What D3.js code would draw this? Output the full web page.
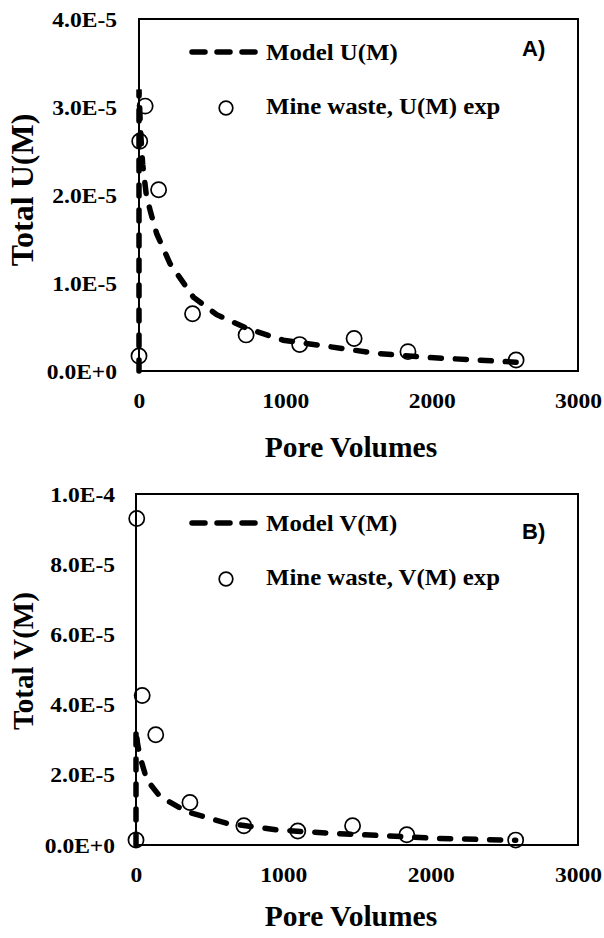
<!DOCTYPE html>
<html>
<head>
<meta charset="utf-8">
<script src="https://cdn.jsdelivr.net/npm/d3@7"></script>
<style>
  body { margin: 0; background: #fff; }
  svg { display: block; }
  .tick text { font-family: "Liberation Serif", "Times New Roman", serif; font-weight: bold; fill: #000; }
  .ttl { font-family: "Liberation Serif", "Times New Roman", serif; font-weight: bold; fill: #000; }
  .tag { font-family: "Liberation Sans", Arial, sans-serif; font-weight: bold; fill: #000; }
</style>
</head>
<body>
<svg width="604" height="938"></svg>
<script>
// pore volumes of the measured samples
var poreVolumes = [0, 5, 42, 134, 366, 732, 1098, 1470, 1838, 2577];
// measured totals, mine waste
var uExp = [1.7e-6, 2.61e-5, 3.01e-5, 2.06e-5, 6.5e-6, 4.1e-6, 3.0e-6, 3.7e-6, 2.2e-6, 1.25e-6];
var vExp = [1.4e-6, 9.3e-5, 4.26e-5, 3.14e-5, 1.21e-5, 5.5e-6, 4.0e-6, 5.5e-6, 2.9e-6, 1.4e-6];

// model curves
var uModelPV = [0, 0, 10, 25, 50, 80, 121, 212, 371, 531, 736, 986, 1305, 1625, 1966, 2308, 2577];
var uModel = [0, 3.2e-5, 2.75e-5, 2.35e-5, 2.0e-5, 1.8e-5, 1.56e-5, 1.22e-5, 8.4e-6, 6.4e-6, 4.85e-6, 3.5e-6, 2.76e-6, 2.0e-6, 1.55e-6, 1.25e-6, 1.0e-6];
var vModelPV = [0, 0, 10, 27, 73, 163, 344, 616, 955, 1340, 1656, 2041, 2516, 2577];
var vModel = [0, 3.3e-5, 2.9e-5, 2.52e-5, 1.86e-5, 1.38e-5, 9.5e-6, 6.2e-6, 4.3e-6, 3.3e-6, 2.7e-6, 1.9e-6, 1.4e-6, 1.35e-6];

var xTicks = [0, 1000, 2000, 3000];
var uTicks = [0, 1e-5, 2e-5, 3e-5, 4e-5];
var vTicks = [0, 2e-5, 4e-5, 6e-5, 8e-5, 1e-4];

var svg = d3.select("svg");
var stretch = 1.07; // labels in the original are a bit wide

function sci(d) {
  if (d === 0) return "0.0E+0";
  var e = Math.floor(Math.log10(d) + 1e-9);
  var m = d / Math.pow(10, e);
  return m.toFixed(1) + "E" + e;
}

function panel(o) {
  var x = d3.scaleLinear().domain([0, 3000]).range([o.left, o.right]);
  var y = d3.scaleLinear().domain([0, o.ymax]).range([o.bottom, o.top]);
  var g = svg.append("g");

  // y axis labels
  g.append("g")
    .attr("transform", "translate(" + o.left + ",0)")
    .call(d3.axisLeft(y).tickValues(o.yTicks).tickFormat(sci).tickSize(0).tickPadding(o.ypad))
    .call(function(a) { a.select(".domain").remove(); })
    .selectAll("text")
    .style("font-size", "22px")
    .attr("x", -o.ypad / stretch)
    .attr("transform", "scale(" + stretch + ",1)");

  // x axis labels
  g.append("g")
    .attr("transform", "translate(0," + o.bottom + ")")
    .call(d3.axisBottom(x).tickValues(xTicks).tickFormat(d3.format("d")).tickSize(0).tickPadding(o.xpad))
    .call(function(a) { a.select(".domain").remove(); })
    .selectAll("text")
    .style("font-size", "22px")
    .attr("transform", "scale(" + stretch + ",1)");

  // model line
  var line = d3.line()
    .x(function(d, i) { return x(o.modelPV[i]); })
    .y(function(d) { return y(d); });
  g.append("path")
    .attr("d", line(o.model))
    .attr("fill", "none")
    .attr("stroke", "#000")
    .attr("stroke-width", 5.5)
    .attr("stroke-linecap", "round")
    .attr("stroke-dasharray", "11,14");

  // frame
  g.append("rect")
    .attr("x", o.left).attr("y", o.top)
    .attr("width", o.right - o.left).attr("height", o.bottom - o.top)
    .attr("fill", "none").attr("stroke", "#000").attr("stroke-width", 2);

  // measured points
  g.selectAll("circle.pt")
    .data(o.exp)
    .enter().append("circle")
    .attr("class", "pt")
    .attr("cx", function(d, i) { return x(poreVolumes[i]); })
    .attr("cy", function(d) { return y(d); })
    .attr("r", 7.6)
    .attr("fill", "none")
    .attr("stroke", "#000")
    .attr("stroke-width", 1.7);

  // legend
  g.append("line")
    .attr("x1", 192).attr("x2", 258)
    .attr("y1", o.legY).attr("y2", o.legY)
    .attr("stroke", "#000").attr("stroke-width", 5.5)
    .attr("stroke-linecap", "round").attr("stroke-dasharray", "13,12");
  g.append("text").attr("class", "ttl")
    .attr("transform", "translate(266," + (o.legY + 8) + ") scale(1.08,1)")
    .style("font-size", "23px")
    .text(o.modelName);
  g.append("circle")
    .attr("cx", 226).attr("cy", o.legY + 56)
    .attr("r", 6.8)
    .attr("fill", "none").attr("stroke", "#000").attr("stroke-width", 1.7);
  g.append("text").attr("class", "ttl")
    .attr("transform", "translate(266," + (o.legY + 62) + ") scale(1.08,1)")
    .style("font-size", "23px")
    .text(o.expName);

  g.append("text").attr("class", "tag")
    .attr("x", 522).attr("y", o.tagY)
    .style("font-size", "22px")
    .text(o.tag);

  // axis titles
  g.append("text").attr("class", "ttl")
    .attr("x", 351).attr("y", o.xTitleY)
    .attr("text-anchor", "middle")
    .style("font-size", "29.5px")
    .text("Pore Volumes");
  g.append("text").attr("class", "ttl")
    .attr("transform", "translate(33," + o.yTitleMid + ") rotate(-90)")
    .attr("text-anchor", "middle")
    .style("font-size", o.yTitleFont + "px")
    .text(o.yTitle);
}

panel({
  left: 139, right: 578, top: 19, bottom: 371, ymax: 4e-5,
  yTicks: uTicks, exp: uExp, model: uModel, modelPV: uModelPV,
  ypad: 22, xpad: 21,
  legY: 52, modelName: "Model U(M)", expName: "Mine waste, U(M) exp",
  tag: "A)", tagY: 56, xTitleY: 457, yTitle: "Total U(M)", yTitleMid: 190, yTitleFont: 32
});

panel({
  left: 136, right: 578, top: 494, bottom: 845, ymax: 1e-4,
  yTicks: vTicks, exp: vExp, model: vModel, modelPV: vModelPV,
  ypad: 21, xpad: 21,
  legY: 523, modelName: "Model V(M)", expName: "Mine waste, V(M) exp",
  tag: "B)", tagY: 539, xTitleY: 926, yTitle: "Total V(M)", yTitleMid: 661, yTitleFont: 29
});
</script>
</body>
</html>
